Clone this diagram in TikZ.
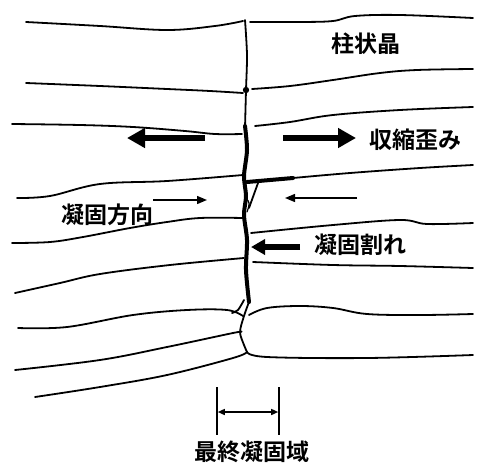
\documentclass[tikz,border=0pt]{standalone}
\usepackage{fontspec}
\newfontfamily\jp{Noto Sans CJK JP}[BoldFont={Noto Sans CJK JP Bold}]
\usetikzlibrary{arrows.meta}
\begin{document}
\begin{tikzpicture}[x=1pt,y=-1pt,
  grain/.style={line width=1.8pt, line join=round, line cap=round},
  crackline/.style={line width=4pt, line join=round, line cap=round},
  bigarrow/.style={line width=6.5pt, -{Triangle[length=18pt,width=19pt]}},
  thinarrow/.style={line width=1.4pt, -{Triangle[length=10pt,width=8pt]}},
  dimline/.style={line width=1.6pt},
  dimarrow/.style={line width=1.5pt, {Triangle[length=7pt,width=6pt]}-{Triangle[length=7pt,width=6pt]}},
  lbl/.style={font=\jp\bfseries\fontsize{23}{26}\selectfont, inner sep=0pt}]
\useasboundingbox (0,0) rectangle (478,463);

% grain boundaries, left half
\draw[grain] plot[smooth, tension=0.6] coordinates {(26,22) (100,26) (167,30) (215,26) (243,21)};
\draw[grain] plot[smooth, tension=0.6] coordinates {(26,83) (100,86) (167,89) (210,91) (243,93)};
\draw[grain] plot[smooth, tension=0.6] coordinates {(12,124) (80,125) (133,127) (185,131) (215,134) (242,134)};
\draw[grain] plot[smooth, tension=0.6] coordinates {(17,198) (50,196) (100,184) (167,181) (243,175)};
\draw[grain] plot[smooth, tension=0.6] coordinates {(12,243) (50,242) (83,237) (130,228) (167,222) (200,218) (243,218)};
\draw[grain] plot[smooth, tension=0.6] coordinates {(15,293) (60,283) (100,274) (170,265) (244,258)};
\draw[grain] plot[smooth, tension=0.6] coordinates {(18,328) (67,327) (133,315) (187,310) (227,310) (243,316)};
\draw[grain] plot[smooth, tension=0.6] coordinates {(15,370) (100,360) (167,347) (233,333) (241,332)};
\draw[grain] plot[smooth, tension=0.6] coordinates {(35,397) (100,387) (167,375) (233,358) (247,352)};

% grain boundaries, right half
\draw[grain] plot[smooth, tension=0.6] coordinates {(250,22) (300,22) (333,21) (355,16) (400,15) (473,18)};
\draw[grain] plot[smooth, tension=0.6] coordinates {(252,89) (290,86) (333,80) (380,73) (417,70) (473,69)};
\draw[grain] plot[smooth, tension=0.6] coordinates {(255,126) (290,122) (333,115) (400,110) (473,107)};
\draw[grain] plot[smooth, tension=0.6] coordinates {(293,178) (350,173) (420,168) (473,165)};
\draw[grain] plot[smooth, tension=0.6] coordinates {(251,233) (333,225) (400,220) (427,224) (473,223)};
\draw[grain] plot[smooth, tension=0.6] coordinates {(253,262) (333,265) (400,266) (473,268)};
\draw[grain] plot[smooth, tension=0.6] coordinates {(249,315) (267,308) (300,306) (333,308) (367,314) (420,315) (473,314)};
\draw[grain] plot[smooth, tension=0.6] coordinates {(247,352) (267,357) (367,358) (473,355)};

% centre line: thin upper part, crack, and the junctions below it
\draw[grain] plot[smooth, tension=0.5] coordinates {(245,20) (247,55) (246,90) (245,128)};
\draw[grain] (246,90) circle (2.2);
\draw[crackline] plot[smooth, tension=0.5] coordinates {(245,126) (247,150) (244,176) (246,196) (244,215) (247,240) (246,270) (249,302)};
\draw[crackline] (247,182) -- (293,178);
\draw[grain] (258,183) -- (249,208);
\draw[grain, line width=1.2pt] (246,198) .. controls (250,203) .. (247,212);
\draw[grain] plot[smooth, tension=0.5] coordinates {(249,302) (244,316) (240,332) (244,345) (247,352)};
\draw[grain] plot[smooth, tension=0.5] coordinates {(244,300) (238,310) (232,313)};

% labels
\node[lbl] (columnar) at (366,44) {柱状晶};
\node[lbl] (strain) at (415,140) {収縮歪み};
\node[lbl] (direction) at (107,215) {凝固方向};
\node[lbl] (cracking) at (360,245) {凝固割れ};
\node[lbl] (zone) at (252,452) {最終凝固域};

% arrows
\coordinate (sL0) at (205,138); \coordinate (sL1) at (127,138);
\coordinate (sR0) at (283,138); \coordinate (sR1) at (356,138);
\coordinate (dL0) at (153,200); \coordinate (dL1) at (207,200);
\coordinate (dR0) at (357,198); \coordinate (dR1) at (285,198);
\coordinate (c0) at (300,247); \coordinate (c1) at (251,247);
\draw[bigarrow] (sL0) -- (sL1);
\draw[bigarrow] (sR0) -- (sR1);
\draw[thinarrow] (dL0) -- (dL1);
\draw[thinarrow] (dR0) -- (dR1);
\draw[line width=5.5pt, -{Triangle[length=14pt,width=15pt]}] (c0) -- (c1);

% width of the last solidifying zone
\coordinate (t1a) at (217,387); \coordinate (t1b) at (217,435);
\coordinate (t2a) at (279,387); \coordinate (t2b) at (279,435);
\draw[dimline] (t1a) -- (t1b);
\draw[dimline] (t2a) -- (t2b);
\draw[dimarrow] (217.8,412) -- (278.2,412);
\end{tikzpicture}
\end{document}
